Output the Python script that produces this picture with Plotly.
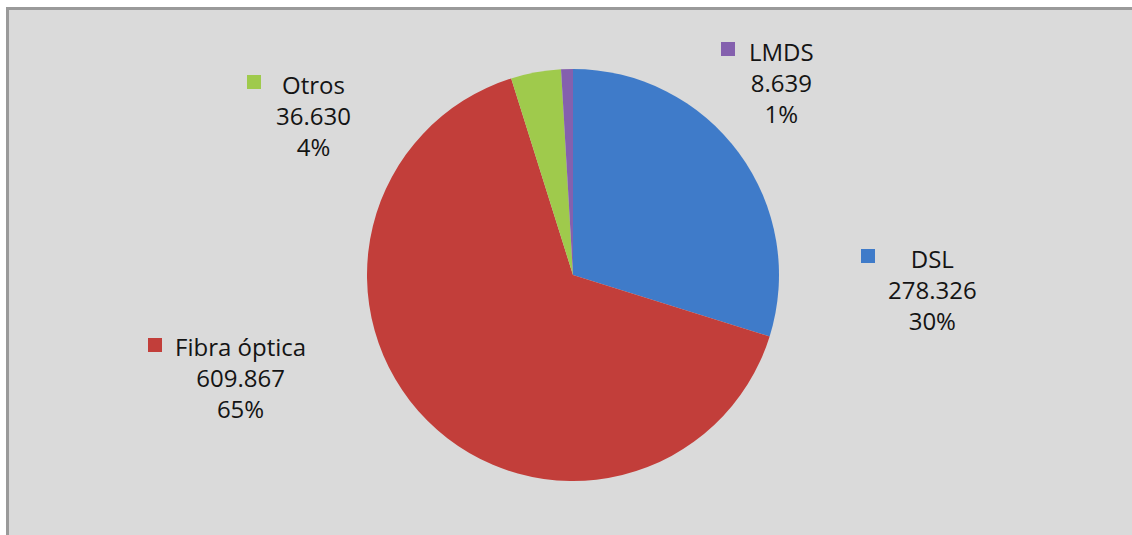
import plotly.graph_objects as go

W, H = 1132, 535

categories = ["DSL", "Fibra óptica", "Otros", "LMDS"]
values = [278326, 609867, 36630, 8639]
colors = ["#3f7bc9", "#c23e3a", "#9fca4c", "#8460ae"]

# label placement (pixel centres of text blocks) - styling only
label_pos = {
    "DSL": (932, 289),
    "Fibra óptica": (241, 377),
    "Otros": (313, 115),
    "LMDS": (781, 82),
}
square_pos = {
    "DSL": (868, 256),
    "Fibra óptica": (155, 345),
    "Otros": (254, 82),
    "LMDS": (728, 49),
}

def px(x):
    return x / W

def py(y):
    return 1 - y / H

def fmt(v):
    return f"{v:,}".replace(",", ".")

total = sum(values)

fig = go.Figure()
fig.add_trace(go.Pie(
    labels=categories,
    values=values,
    sort=False,
    direction="clockwise",
    rotation=0,
    marker=dict(colors=colors, line=dict(width=0)),
    textinfo="none",
    hoverinfo="label+value+percent",
    showlegend=False,
    domain=dict(x=[px(573 - 206), px(573 + 206)], y=[py(481), py(69)]),
))

shapes = [dict(
    type="rect", xref="paper", yref="paper",
    x0=px(7.5), x1=1.02, y0=-0.02, y1=py(8.5),
    fillcolor="#dadada", line=dict(color="#9a9a9a", width=3), layer="below",
)]
annotations = []
for cat, val, col in zip(categories, values, colors):
    pct = round(val / total * 100)
    lx, ly = label_pos[cat]
    annotations.append(dict(
        x=px(lx), y=py(ly), xref="paper", yref="paper",
        xanchor="center", yanchor="middle", align="center",
        showarrow=False,
        text=f"{cat}<br>{fmt(val)}<br>{pct}%",
        font=dict(family="Open Sans", size=24, color="#141414"),
    ))
    sx, sy = square_pos[cat]
    shapes.append(dict(
        type="rect", xref="paper", yref="paper",
        x0=px(sx - 7), x1=px(sx + 7), y0=py(sy + 7), y1=py(sy - 7),
        fillcolor=col, line=dict(width=0),
    ))

fig.update_layout(
    width=W, height=H,
    margin=dict(l=0, r=0, t=0, b=0),
    paper_bgcolor="white",
    plot_bgcolor="white",
    shapes=shapes,
    annotations=annotations,
)

fig.write_html(
    "out.html",
    config={"displayModeBar": False},
    post_script="document.body.style.margin='0';document.body.style.overflow='hidden';",
)
